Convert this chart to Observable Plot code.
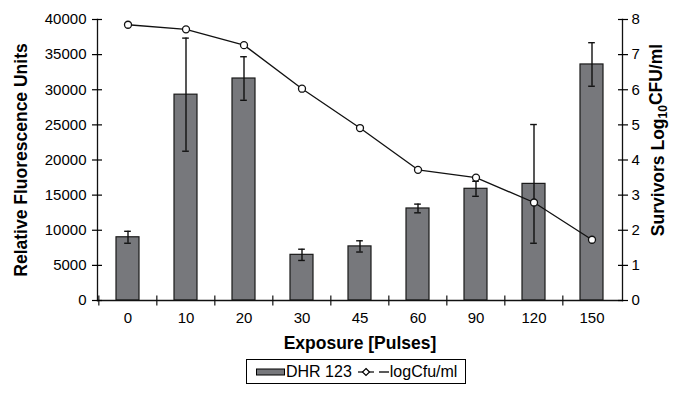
<!DOCTYPE html>
<html><head><meta charset="utf-8">
<script src="https://cdn.jsdelivr.net/npm/d3@7"></script>
<script src="https://cdn.jsdelivr.net/npm/@observablehq/plot@0.6"></script>
<style>
body{margin:0;background:#fff;font-family:"Liberation Sans",Arial,sans-serif;}
#wrap{position:relative;width:678px;height:395px;overflow:hidden;}
#legend{position:absolute;left:246px;top:359px;width:218px;height:23px;border:1px solid #000;box-sizing:content-box;
 display:flex;align-items:center;font-size:16px;color:#000;white-space:nowrap;}
#legend svg{display:block}
</style></head><body><div id="wrap"><div id="chart"></div>
<div id="legend">
 <svg width="40" height="10" style="margin-left:9px"><rect x="0.5" y="2" width="28" height="6" fill="#77787c" stroke="#000"/></svg>
 <span style="margin-left:-10px">DHR 123</span>
 <svg width="18" height="12" style="margin-left:5px"><line x1="1" y1="6" x2="17" y2="6" stroke="#000" stroke-width="1.2"/><path d="M9,2.5 L12.5,6 L9,9.5 L5.5,6 Z" fill="#fff" stroke="#000" stroke-width="1.2"/></svg>
 <svg width="12" height="12" style="margin-left:3px"><line x1="1" y1="6" x2="11" y2="6" stroke="#000" stroke-width="1.3"/></svg>
 <span>logCfu/ml</span>
</div></div>
<script>
const exposure = ["0", "10", "20", "30", "45", "60", "90", "120", "150"];
const dhr123 = [9000, 29300, 31600, 6500, 7700, 13100, 15900, 16600, 33600];
const dhr123Err = [850, 8050, 3100, 800, 800, 620, 1070, 8450, 3100];
const logCfu = [7.85, 7.72, 7.27, 6.03, 4.91, 3.72, 3.50, 2.79, 1.73];
const leftTicks = [0, 5000, 10000, 15000, 20000, 25000, 30000, 35000, 40000];
const rightTicks = [0, 1, 2, 3, 4, 5, 6, 7, 8];

const rows = exposure.map((e, i) => ({exposure: e, dhr: dhr123[i], err: dhr123Err[i], log: logCfu[i]}));
const k = leftTicks[leftTicks.length - 1] / rightTicks[rightTicks.length - 1];

const W = 678, H = 352, mL = 97, mR = 56, mT = 19, mB = 52;
const step = (W - mL - mR) / exposure.length;
const bandwidth = step * 0.4;
const capInset = (bandwidth - 7) / 2;

// vertical tick symbol (crosses the axis)
const vTick = {draw(ctx, size) { const r = Math.sqrt(size / Math.PI); ctx.moveTo(0, -r); ctx.lineTo(0, r); }};

const chart = Plot.plot({
  width: W, height: H, marginLeft: mL, marginRight: mR, marginTop: mT, marginBottom: mB,
  style: {fontFamily: "'Liberation Sans', Arial, sans-serif", fontSize: "15px", color: "#000", background: "#fff", overflow: "visible"},
  x: {type: "band", domain: exposure, paddingInner: 0.6, paddingOuter: 0.3, align: 0.5},
  y: {domain: [0, leftTicks[leftTicks.length - 1]]},
  marks: [
    Plot.barY(rows, {x: "exposure", y: "dhr", fill: "#77787c", stroke: "#1a1a1a", strokeWidth: 1.2}),
    Plot.ruleX(rows, {x: "exposure", y1: d => d.dhr - d.err, y2: d => d.dhr + d.err, stroke: "#111", strokeWidth: 1.4}),
    Plot.tickY(rows, {x: "exposure", y: d => d.dhr + d.err, insetLeft: capInset, insetRight: capInset, stroke: "#111", strokeWidth: 1.4}),
    Plot.tickY(rows, {x: "exposure", y: d => d.dhr - d.err, insetLeft: capInset, insetRight: capInset, stroke: "#111", strokeWidth: 1.4}),
    Plot.line(rows, {x: "exposure", y: d => d.log * k, stroke: "#111", strokeWidth: 1.3}),
    Plot.dot(rows, {x: "exposure", y: d => d.log * k, r: 3.5, fill: "#fff", stroke: "#111", strokeWidth: 1.3}),
    Plot.frame({anchor: "left", stroke: "#111", strokeWidth: 1.3}),
    Plot.frame({anchor: "right", stroke: "#111", strokeWidth: 1.3}),
    Plot.frame({anchor: "bottom", stroke: "#111", strokeWidth: 1.3}),
    Plot.dot(exposure, {x: d => d, y: 0, dx: -step / 2, r: 5, symbol: vTick, stroke: "#111", strokeWidth: 1.2, fill: "none"}),
    Plot.axisY({anchor: "left", ticks: leftTicks, tickFormat: d => String(d), tickSize: 0, tickPadding: 11,
      label: "Relative Fluorescence Units", labelAnchor: "center", labelOffset: 83, labelArrow: "none"}),
    Plot.axisY({anchor: "left", ticks: leftTicks, tickSize: 10, dx: 5, tickFormat: () => "", label: null, strokeWidth: 1.2}),
    Plot.axisY({anchor: "right", ticks: rightTicks.map(v => v * k), tickFormat: v => String(v / k), tickSize: 0, tickPadding: 9,
      label: "Survivors Log10CFU/ml", labelAnchor: "center", labelOffset: 41, labelArrow: "none"}),
    Plot.axisY({anchor: "right", ticks: rightTicks.map(v => v * k), tickSize: 10, dx: -5, tickFormat: () => "", label: null, strokeWidth: 1.2}),
    Plot.axisX({tickSize: 0, tickPadding: 12, label: "Exposure [Pulses]", labelAnchor: "center", labelOffset: 48, labelArrow: "none"})
  ]
});
document.getElementById("chart").appendChild(chart);

const svg = d3.select(chart);
svg.selectAll("text").each(function() {
  const t = d3.select(this);
  const s = t.text().replace(/[\u2190-\u2193]/g, "").trim();
  if (s === "Relative Fluorescence Units" || s === "Exposure [Pulses]") {
    t.text(s).attr("font-weight", "bold").attr("font-size", "17.5px");
  }
  if (s === "Survivors Log10CFU/ml") {
    t.text("").attr("font-weight", "bold").attr("font-size", "17.5px");
    t.append("tspan").attr("dx", 20).text("Survivors Log");
    t.append("tspan").attr("font-size", "12px").attr("dy", "0.3em").text("10");
    t.append("tspan").attr("dy", "-0.3em").text("CFU/ml");
  }
});
</script></body></html>
